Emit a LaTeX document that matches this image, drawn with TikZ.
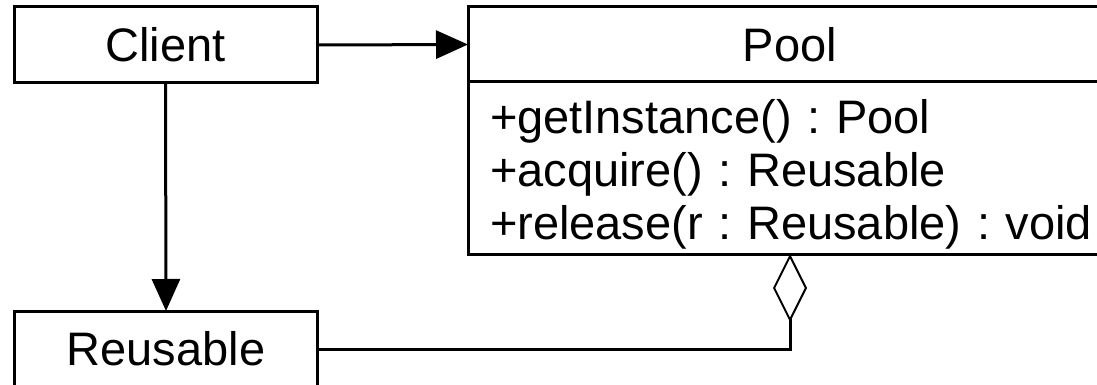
\documentclass[tikz,border=0pt]{standalone}
\usepackage{fontspec}
\setmainfont{Liberation Sans}
\usetikzlibrary{positioning,arrows.meta}

\begin{document}
\begin{tikzpicture}[x=1pt,y=-1pt,
  font=\fontsize{47}{53}\selectfont\frenchspacing,
  classbox/.style={draw, line width=3pt, outer sep=0pt, inner sep=0pt,
    minimum width=303pt, minimum height=76pt},
  poolbox/.style={draw, line width=3pt, outer sep=0pt, inner sep=0pt,
    minimum width=644pt},
  assoc/.style={line width=3pt, -{Triangle[length=32pt,width=28pt]}},
  aggr/.style={line width=3pt, -{Diamond[open,length=68pt,width=34pt,line width=2pt]}}]

  \useasboundingbox (0,0) rectangle (1097,385);
  \clip (0,0) rectangle (1097,385);

  \node[classbox] (client) at (165.5,45) {Client};
  \node[classbox] (reusable) at (166,349) {Reusable};
  \node[poolbox, minimum height=75pt] (pool) at (790,44.5) {Pool};
  \node[poolbox, anchor=north west, inner xsep=22pt, text width=660pt,
    text height=52pt, text depth=120pt, align=left] (ops) at (pool.south west)
    {+getInstance() : Pool\\+acquire() : Reusable\\+release(r : Reusable) : void};

  \draw[assoc] (client.east) -- (pool.west);
  \draw[assoc] (client.south) -- (reusable.north);
  \draw[aggr] (reusable.east) -| (ops.south -| pool.south);
\end{tikzpicture}
\end{document}
